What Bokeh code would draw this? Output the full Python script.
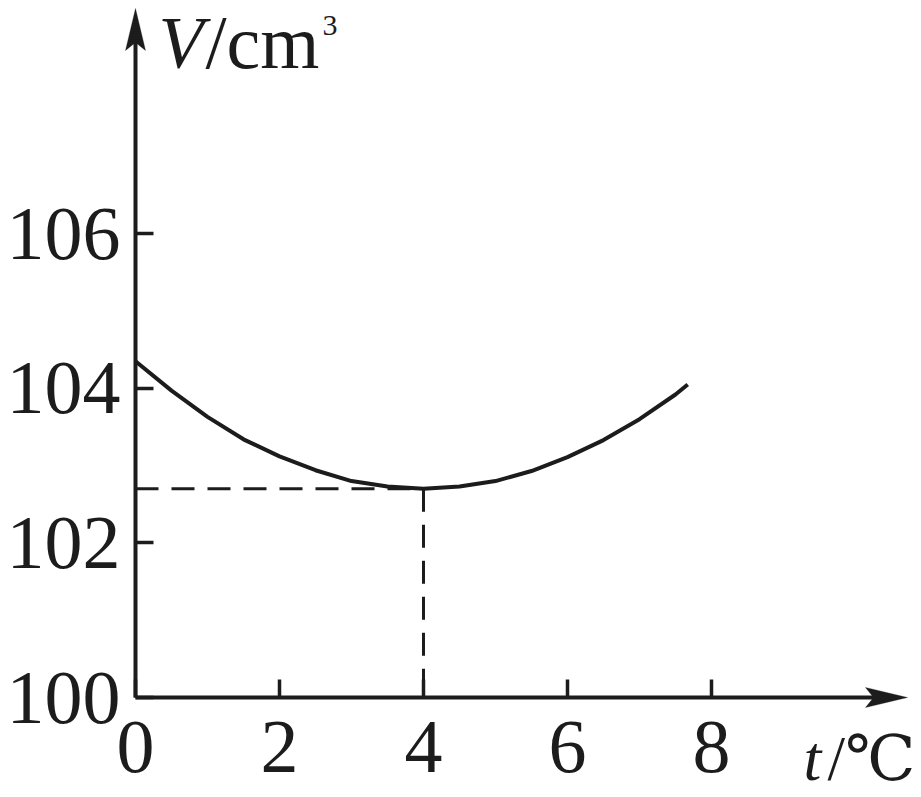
from bokeh.plotting import figure
from bokeh.models import Range1d, FixedTicker, Label, PolyAnnotation
from bokeh.embed import file_html
from bokeh.resources import INLINE

# ---- data ----
t_vals = [0, 0.5, 1, 1.5, 2, 2.5, 3, 3.5, 4, 4.5, 5, 5.5, 6, 6.5, 7, 7.5, 7.67]
v_vals = [104.35, 103.97, 103.63, 103.34, 103.12, 102.94, 102.80, 102.73, 102.70,
          102.73, 102.80, 102.93, 103.11, 103.33, 103.60, 103.92, 104.05]
t_min = 4
v_min = 102.7
x_ticks = [0, 2, 4, 6, 8]
y_ticks = [100, 102, 104, 106]

INK = "#1c1c1c"
SERIF = "Liberation Serif"

# layout (pixels): origin of the axes on the canvas and scale
W, H = 921, 797
OX, OY = 135, 697          # pixel position of (t=0, V=100)
PX_PER_T = 72.0
PX_PER_V = 77.3
X_END_PX, Y_END_PX = 907, 8   # arrow tips

def px(xp):
    return (xp - OX) / PX_PER_T

def py(yp):
    return 100 + (OY - yp) / PX_PER_V

p = figure(width=W, height=H, output_backend="svg", toolbar_location=None,
           x_range=Range1d(px(0), px(W)), y_range=Range1d(py(H), py(0)),
           min_border=0)
p.outline_line_color = None
p.xgrid.visible = False
p.ygrid.visible = False
p.background_fill_color = "white"

for ax in (p.xaxis[0], p.yaxis[0]):
    ax.axis_line_color = None
    ax.major_tick_in = 18
    ax.major_tick_out = 0
    ax.minor_tick_line_color = None
    ax.major_tick_line_color = INK
    ax.major_tick_line_width = 3.5
    ax.major_label_text_font = SERIF
    ax.major_label_text_font_size = "76px"
    ax.major_label_text_color = INK
p.xaxis[0].ticker = FixedTicker(ticks=x_ticks)
p.yaxis[0].ticker = FixedTicker(ticks=y_ticks)
p.xaxis[0].fixed_location = 100
p.yaxis[0].fixed_location = 0
p.xaxis[0].major_label_standoff = 24
p.yaxis[0].major_label_standoff = 15

x_tip = px(X_END_PX)
y_tip = py(Y_END_PX)

# axis lines
p.line([0, x_tip - 0.3], [100, 100], line_color=INK, line_width=4)
p.line([0, 0], [100, y_tip - 0.3], line_color=INK, line_width=4)

# curve
p.line(t_vals, v_vals, line_color=INK, line_width=4)
# dashed guide lines
p.line([0, t_min], [v_min, v_min], line_color=INK, line_width=3, line_dash="23 13")
p.line([t_min, t_min], [v_min, 100], line_color=INK, line_width=3, line_dash="23 13")

# arrowheads (sizes in pixels, converted to data units)
HL, HW, HN = 42, 10, 8   # length, half width, notch depth
dx = lambda v: v / PX_PER_T
dy = lambda v: v / PX_PER_V
p.add_layout(PolyAnnotation(
    xs=[x_tip, x_tip - dx(HL), x_tip - dx(HL - HN), x_tip - dx(HL)],
    ys=[100, 100 + dy(HW), 100, 100 - dy(HW)],
    fill_color=INK, fill_alpha=1, line_color=INK, line_width=1))
p.add_layout(PolyAnnotation(
    xs=[0, dx(HW), 0, -dx(HW)],
    ys=[y_tip, y_tip - dy(HL), y_tip - dy(HL - HN), y_tip - dy(HL)],
    fill_color=INK, fill_alpha=1, line_color=INK, line_width=1))

def lab(xp, baseline_px, text, size, style="normal", font=SERIF):
    # empirical correction: the label's anchor sits ~0.4em above the glyph baseline
    p.add_layout(Label(x=px(xp), y=py(baseline_px - 0.4 * size), text=text,
                       text_font=font, text_font_size=f"{size}px",
                       text_font_style=style, text_color=INK,
                       text_align="left", text_baseline="alphabetic"))

lab(158, 72, "V", 74, "italic")
lab(205, 72, "/cm", 76)
lab(322, 37, "3", 30)

lab(803, 784, "t", 64, "italic")
lab(827, 784, "/℃", 63, font="Liberation Serif, DejaVu Serif, serif")

open("out.html", "w").write(file_html(p, INLINE))
